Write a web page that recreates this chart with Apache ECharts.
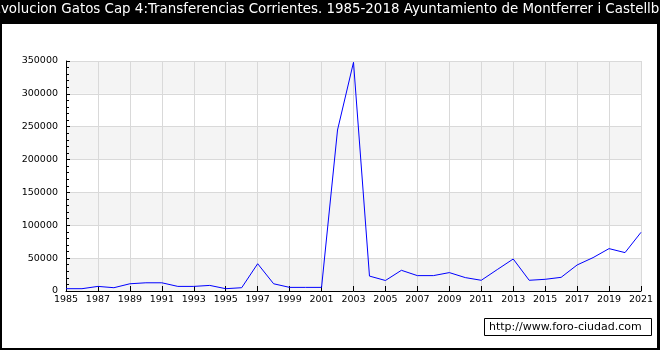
<!DOCTYPE html>
<html><head><meta charset="utf-8">
<script src="https://cdn.jsdelivr.net/npm/echarts@6/dist/echarts.min.js"></script>
<style>html,body{margin:0;padding:0;background:#000}#c{width:660px;height:350px}</style>
</head><body><div id="c"></div>
<script>
var titleText = 'Evolucion Gatos Cap 4:Transferencias Corrientes. 1985-2018 Ayuntamiento de Montferrer i Castellbò';
var years = ['1985','1986','1987','1988','1989','1990','1991','1992','1993','1994','1995','1996','1997','1998','1999','2000','2001','2002','2003','2004','2005','2006','2007','2008','2009','2010','2011','2012','2013','2014','2015','2016','2017','2018','2019','2020','2021'];
var values = [3500,3500,7000,5000,11000,12500,12500,7000,7000,8500,3500,5000,41500,11000,5500,5500,5500,245000,348000,22700,16000,31500,23400,23400,28000,20400,16300,32600,48700,16300,17800,20800,39600,50800,64500,58400,89300];
var yTicks = [0,50000,100000,150000,200000,250000,300000,350000];
var watermark = 'http://www.foro-ciudad.com';

var chart = echarts.init(document.getElementById('c'), null, {renderer:'canvas'});
var font = 'DejaVu Sans';
chart.setOption({
  backgroundColor: '#000',
  animation: false,
  graphic: [
    {type:'rect', z:-10, shape:{x:2, y:24, width:655, height:324}, style:{fill:'#fff'}},
    {type:'text', left:'center', top:3, style:{text:titleText, fill:'#fff', font:'13.4px "DejaVu Sans"'}},
    {type:'rect', shape:{x:484.5, y:318.5, width:167, height:17}, style:{fill:'#fff', stroke:'#000', lineWidth:1}},
    {type:'text', x:489, y:321.5, style:{text:watermark, fill:'#000', font:'11px "DejaVu Sans"'}}
  ],
  grid: {left:66, right:19, top:61, bottom:59},
  xAxis: {
    type:'category', data: years, boundaryGap:false,
    axisLine:{lineStyle:{color:'#000', width:1}},
    axisTick:{show:true, inside:true, length:5, interval:1, lineStyle:{color:'#000'}},
    axisLabel:{interval:1, color:'#000', fontFamily:font, fontSize:9.5, margin:4},
    splitLine:{show:true, interval:1, lineStyle:{color:'#d9d9d9', width:1}}
  },
  yAxis: [{
    type:'value', min:yTicks[0], max:yTicks[yTicks.length-1], interval:50000,
    axisLine:{show:true, lineStyle:{color:'#000', width:1}},
    axisTick:{show:true, inside:true, length:4, lineStyle:{color:'#000'}},
    axisLabel:{color:'#000', fontFamily:font, fontSize:9.5, margin:8, formatter:function(v){return String(v);}},
    splitLine:{show:true, lineStyle:{color:'#d9d9d9', width:1}},
    splitArea:{show:true, areaStyle:{color:['#f4f4f4','#ffffff']}}
  },{
    type:'value', position:'left', min:yTicks[0], max:yTicks[yTicks.length-1], interval:10000,
    axisLine:{show:false},
    axisTick:{show:true, inside:true, length:3, lineStyle:{color:'#000'}},
    axisLabel:{show:false},
    splitLine:{show:false},
    splitArea:{show:false}
  }],
  series: [{
    type:'line', data: values, symbol:'none', smooth:false,
    lineStyle:{color:'#0000ff', width:1}
  }]
});
</script></body></html>
